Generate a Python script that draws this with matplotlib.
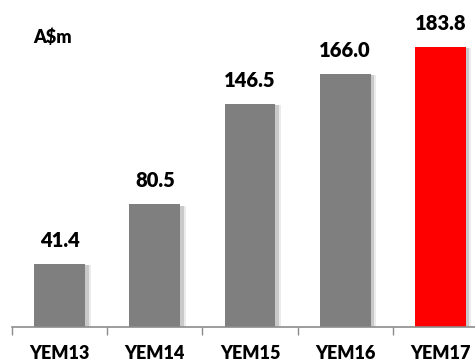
import matplotlib.pyplot as plt
import matplotlib.patheffects as pe
import numpy as np

years = ["YEM13", "YEM14", "YEM15", "YEM16", "YEM17"]
revenue = [41.4, 80.5, 146.5, 166.0, 183.8]
bar_colors = ["#7f7f7f", "#7f7f7f", "#7f7f7f", "#7f7f7f", "#ff0000"]

plt.rcParams['font.family'] = ['Lato', 'DejaVu Sans']

fig = plt.figure(figsize=(4.75, 3.63), dpi=100)
ax = fig.add_axes([12 / 475, 36 / 363, 476 / 475, 305 / 363])

x = np.arange(len(years))
# soft drop shadow on the right edge of each bar
shadow = [pe.SimplePatchShadow(offset=(4, -1), shadow_rgbFace="#000000", alpha=0.08),
          pe.SimplePatchShadow(offset=(2.5, -1), shadow_rgbFace="#000000", alpha=0.14),
          pe.Normal()]
bars = ax.bar(x, revenue, width=0.535, color=bar_colors, zorder=2)
for b in bars:
    b.set_path_effects(shadow)

for xi, v in zip(x, revenue):
    ax.annotate(f"{v:.1f}", (xi, v), xytext=(0, 10), textcoords="offset points",
                ha="center", va="bottom", fontsize=14.5, fontweight="heavy")

ax.set_xlim(-0.5, 4.5)
ax.set_ylim(0, 200)

ax.set_xticks(x)
ax.set_xticklabels(years, fontsize=13, fontweight="heavy")
ax.tick_params(axis="x", which="major", length=0, pad=13)
ax.set_xticks(np.arange(-0.5, 4.5, 1.0), minor=True)
ax.tick_params(axis="x", which="minor", length=6, width=1, color="#8c8c8c", direction="out")
ax.set_yticks([])

for s in ["top", "right", "left"]:
    ax.spines[s].set_visible(False)
ax.spines["bottom"].set_color("#8c8c8c")
ax.spines["bottom"].set_linewidth(1.2)

fig.text(33 / 475, 1 - 37 / 363, "A$m", fontsize=13, fontweight="heavy", va="center", ha="left")

fig.savefig("out.png", dpi=100)
